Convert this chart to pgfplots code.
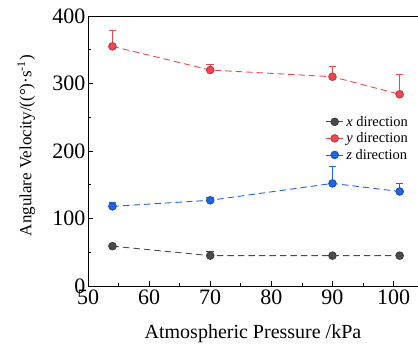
\documentclass[border=0pt]{standalone}
\usepackage{pgfplots}
\pgfplotsset{compat=1.18}
\usepackage{fontspec}
\setmainfont{Liberation Serif}
\definecolor{cx}{RGB}{75,75,75}
\definecolor{cy}{RGB}{240,70,80}
\definecolor{cz}{RGB}{30,100,230}
\begin{document}
\begin{tikzpicture}
\begin{axis}[
  scale only axis, width=330pt, height=270pt,
  xmin=50, xmax=104, ymin=0, ymax=400,
  xtick={50,60,...,100}, ytick={0,100,...,400},
  minor x tick num=1, minor y tick num=1,
  tick align=inside, xtick pos=bottom, ytick pos=left,
  major tick length=5pt, minor tick length=3pt,
  tick style={black, line width=0.6pt},
  axis line style={line width=0.8pt},
  /pgf/number format/assume math mode=true,
  tick label style={font=\fontsize{22}{24}\selectfont},
  yticklabel style={xshift=1pt},
  xlabel={Atmospheric Pressure /kPa},
  ylabel={Angulare Velocity/((°)·s\textsuperscript{-1})},
  xlabel style={font=\fontsize{20}{22}\selectfont, at={(axis description cs:0.5,0)}, anchor=base, yshift=-52pt},
  ylabel style={font=\fontsize{17}{20}\selectfont, at={(axis description cs:-0.15,0.52)}, anchor=south, rotate=0},
  legend style={draw=none, fill=none, font=\fontsize{14.5}{16}\selectfont,
    at={(rel axis cs:0.985,0.645)}, anchor=north east, row sep=1pt},
  legend cell align=left,
  legend image code/.code={\draw[#1, mark repeat=2, mark phase=2] plot coordinates {(0cm,0cm) (0.32cm,0cm) (0.64cm,0cm)};},
  every axis plot/.append style={line width=0.9pt, dash pattern=on 6.5pt off 4pt},
]
\addplot[cx, mark=*, mark size=3.8pt,
  mark options={solid, fill=cx, draw=cx!80!black},
  error bars/.cd, y dir=plus, y explicit, error bar style={solid, line width=0.8pt}, error mark options={rotate=90, mark size=3.8pt, line width=0.8pt}]
  coordinates {(54,59) +- (0,2) (70,45) +- (0,6) (90,45) +- (0,3) (101,45) +- (0,3)};
\addlegendentry{\textit{x} direction}
\addplot[cy, mark=*, mark size=3.8pt,
  mark options={solid, fill=cy, draw=cy!80!black},
  error bars/.cd, y dir=plus, y explicit, error bar style={solid, line width=0.8pt}, error mark options={rotate=90, mark size=3.8pt, line width=0.8pt}]
  coordinates {(54,355) +- (0,23) (70,320) +- (0,8) (90,310) +- (0,15) (101,284) +- (0,30)};
\addlegendentry{\textit{y} direction}
\addplot[cz, mark=*, mark size=3.8pt,
  mark options={solid, fill=cz, draw=cz!80!black},
  error bars/.cd, y dir=plus, y explicit, error bar style={solid, line width=0.8pt}, error mark options={rotate=90, mark size=3.8pt, line width=0.8pt}]
  coordinates {(54,118) +- (0,6) (70,127) +- (0,4) (90,152) +- (0,25) (101,140) +- (0,12)};
\addlegendentry{\textit{z} direction}
\end{axis}
\pgfresetboundingbox
\path[use as bounding box] ([xshift=-88pt,yshift=-62pt]current axis.south west) rectangle ([yshift=16pt]current axis.north east);
\end{tikzpicture}
\end{document}
